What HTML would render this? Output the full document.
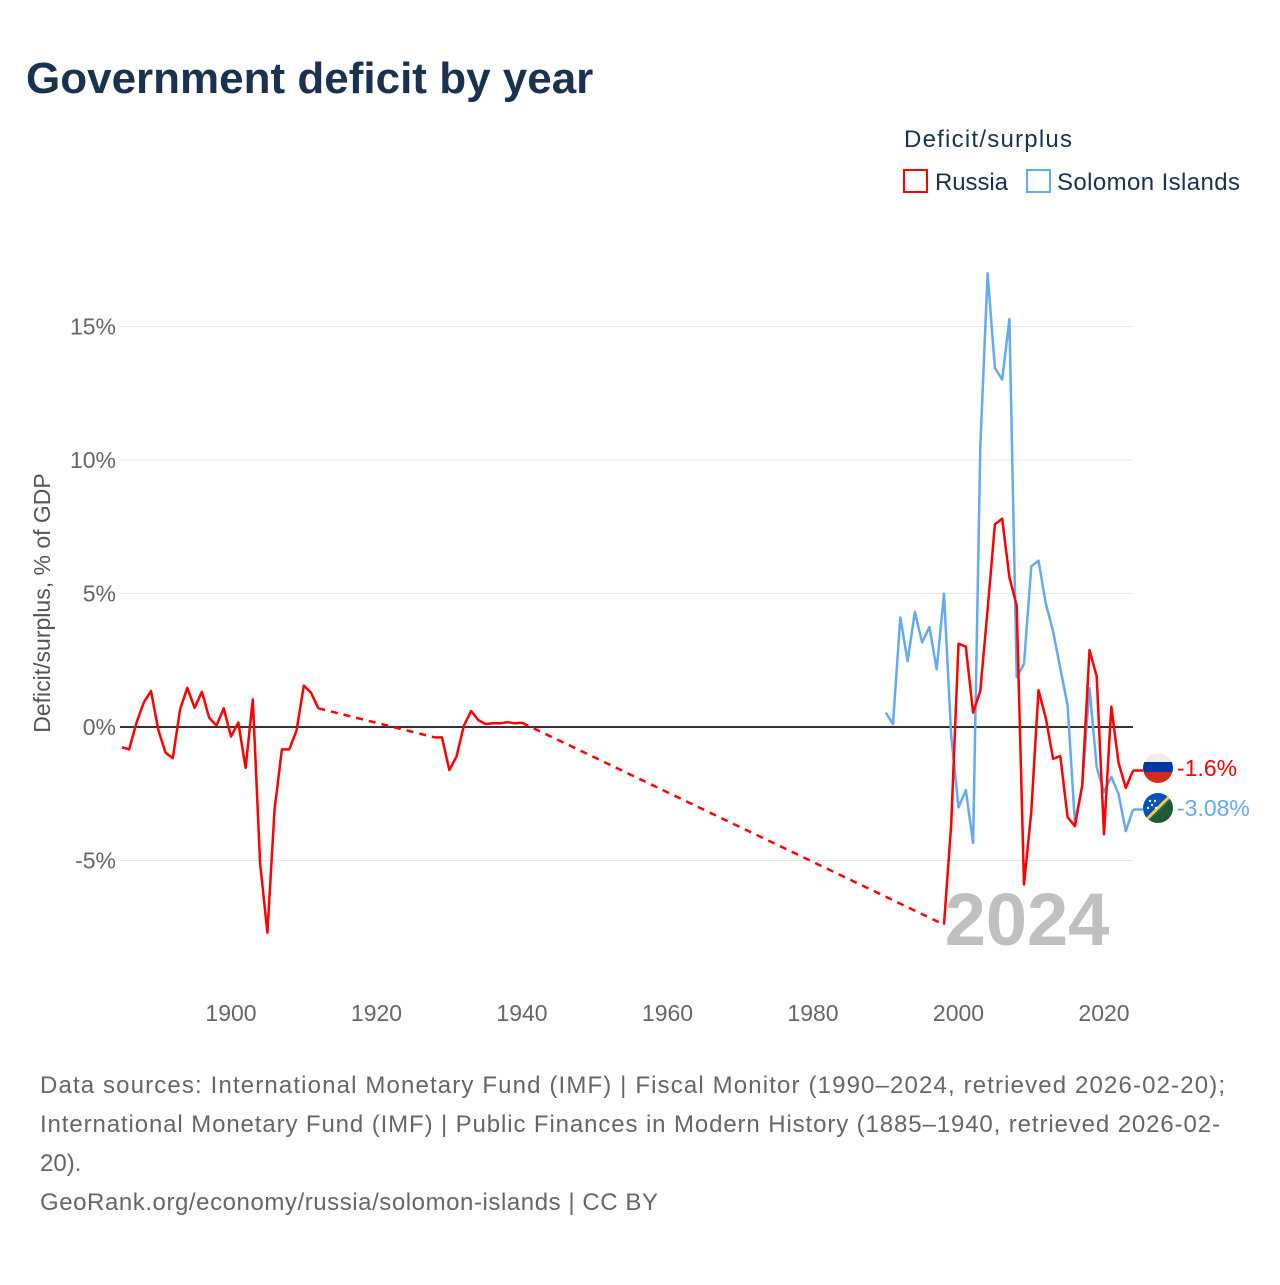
<!DOCTYPE html>
<html><head><meta charset="utf-8"><style>
body{margin:0;background:#fff;width:1280px;height:1280px;overflow:hidden;font-family:"Liberation Sans",sans-serif}
</style></head><body>
<svg width="1280" height="1280" xmlns="http://www.w3.org/2000/svg">
<text x="26" y="93" font-size="44" font-weight="bold" fill="#1a3150">Government deficit by year</text>
<text x="904" y="147" font-size="24" fill="#1a3150" textLength="168">Deficit/surplus</text>
<g><rect x="904" y="170" width="23" height="22" fill="none" stroke="#ff0000" stroke-width="2"/><text x="935" y="190" font-size="24" fill="#1a3150" textLength="73">Russia</text></g>
<g><rect x="1027" y="170" width="23" height="22" fill="none" stroke="#64aaf0" stroke-width="2"/><text x="1057" y="190" font-size="24" fill="#1a3150" textLength="183">Solomon Islands</text></g>
<g id="grid"></g><g id="axes"></g>
<text x="1027" y="945" font-size="74" font-weight="bold" fill="#c0c0c0" text-anchor="middle">2024</text>
<g id="series"></g>
<text transform="translate(50,603) rotate(-90)" font-size="23" fill="#555" text-anchor="middle">Deficit/surplus, % of GDP</text>
<g>
<clipPath id="cr"><circle cx="1158" cy="768" r="15"/></clipPath>
<g clip-path="url(#cr)"><rect x="1140" y="750" width="40" height="12" fill="#eee"/><rect x="1140" y="762" width="40" height="10" fill="#0039a6"/><rect x="1140" y="772" width="40" height="14" fill="#d52b1e"/></g>
<text x="1177" y="776" font-size="23" fill="#ff0000">-1.6%</text></g>
<g>
<clipPath id="cs"><circle cx="1158" cy="808" r="15"/></clipPath>
<g clip-path="url(#cs)"><polygon points="1140,790 1180,790 1140,830" fill="#0051ba"/><polygon points="1180,790 1180,830 1140,830" fill="#215b33"/><line x1="1176" y1="790" x2="1140" y2="826" stroke="#fcd116" stroke-width="3"/><circle cx="1150" cy="801" r="1.2" fill="#fff"/><circle cx="1155" cy="801" r="1.2" fill="#fff"/><circle cx="1152" cy="805" r="1.2" fill="#fff"/><circle cx="1148" cy="808" r="1.2" fill="#fff"/><circle cx="1156" cy="808" r="1.2" fill="#fff"/></g>
<text x="1177" y="816" font-size="23" fill="#64aaf0">-3.08%</text></g>
<g font-size="24" fill="#666">
<text x="40" y="1093" textLength="1185">Data sources: International Monetary Fund (IMF) | Fiscal Monitor (1990–2024, retrieved 2026-02-20);</text>
<text x="40" y="1132" textLength="1180">International Monetary Fund (IMF) | Public Finances in Modern History (1885–1940, retrieved 2026-02-</text>
<text x="40" y="1171">20).</text>
<text x="40" y="1210" textLength="618">GeoRank.org/economy/russia/solomon-islands | CC BY</text>
</g>
</svg>
<script>
const ruEarlyYears=[1885,1912];
const ruEarly=[-0.76,-0.84,0.15,0.91,1.35,-0.11,-0.96,-1.17,0.66,1.47,0.72,1.32,0.35,0.05,0.70,-0.36,0.17,-1.53,1.03,-5.10,-7.70,-3.07,-0.84,-0.84,-0.14,1.55,1.29,0.70];
const ruMidStart=1928;
const ruMid=[-0.39,-0.39,-1.61,-1.11,0.04,0.60,0.26,0.11,0.14,0.14,0.18,0.14,0.16];
const ruLateStart=1998;
const ruLate=[-7.40,-3.66,3.12,3.01,0.54,1.35,4.39,7.59,7.80,5.61,4.55,-5.90,-3.17,1.38,0.33,-1.19,-1.09,-3.38,-3.71,-2.20,2.88,1.90,-4.02,0.76,-1.35,-2.28,-1.63];
const sbStart=1990;
const sb=[0.54,0.11,4.10,2.47,4.31,3.17,3.74,2.16,4.99,-0.33,-3.01,-2.36,-4.34,10.49,16.99,13.45,13.01,15.28,1.87,2.36,6.02,6.23,4.63,3.58,2.20,0.81,-3.58,-2.20,1.46,-1.51,-2.44,-1.87,-2.52,-3.90,-3.09];
const yTicks=[-5,0,5,10,15];
const xTicks=[1900,1920,1940,1960,1980,2000,2020];
const NS='http://www.w3.org/2000/svg';
const X=y=>231+(y-1900)*7.275;
const Y=v=>727-v*26.7;
function mk(t,a,p){const e=document.createElementNS(NS,t);for(const k in a)e.setAttribute(k,a[k]);p.appendChild(e);return e;}
const grid=document.getElementById('grid'),axes=document.getElementById('axes'),ser=document.getElementById('series');
yTicks.forEach(v=>{
 const l=mk('line',{x1:120,x2:1133,y1:Y(v),y2:Y(v),stroke:v===0?'#333':'#e6e6e6','stroke-width':v===0?2:1},v===0?axes:grid);
 
 
 const t=mk('text',{x:116,y:Y(v)+8,'text-anchor':'end','font-size':23,fill:'#666'},axes);
 t.textContent=v+'%';
 
 
});
xTicks.forEach(y=>{
 const t=mk('text',{x:X(y),y:1021,'text-anchor':'middle','font-size':23,fill:'#666'},axes);
 t.textContent=y;
 
 
});
function pts(start,arr){return arr.map((v,i)=>X(start+i).toFixed(1)+','+Y(v).toFixed(1)).join(' ');}
function line(p,col,dash,name){const e=mk('polyline',{points:p,fill:'none',stroke:col,'stroke-width':2.5,'stroke-linejoin':'round','stroke-dasharray':dash||'none'},ser);
 
 }
const s1=ruEarlyYears[0];
line(pts(s1,ruEarly),'#ff0000',null,'russia-line-1885-1912');
const lastE=s1+ruEarly.length-1;
line(X(lastE)+','+Y(ruEarly[ruEarly.length-1])+' '+X(ruMidStart)+','+Y(ruMid[0]),'#ff0000','7,6','russia-gap-1');
line(pts(ruMidStart,ruMid),'#ff0000',null,'russia-line-1928-1940');
const lastM=ruMidStart+ruMid.length-1;
line(X(lastM)+','+Y(ruMid[ruMid.length-1])+' '+X(ruLateStart)+','+Y(ruLate[0]),'#ff0000','7,6','russia-gap-2');
line(pts(sbStart,sb),'#64aaf0',null,'solomon-islands-line');
line(pts(ruLateStart,ruLate),'#ff0000',null,'russia-line-1998-2024');
const endR=X(ruLateStart+ruLate.length-1);
line(endR+','+Y(ruLate[ruLate.length-1])+' 1143,'+Y(ruLate[ruLate.length-1]),'#ff0000',null,'russia-end-connector');
line(X(sbStart+sb.length-1)+','+Y(sb[sb.length-1])+' 1143,'+Y(sb[sb.length-1]),'#64aaf0',null,'solomon-end-connector');
</script>
</body></html>
